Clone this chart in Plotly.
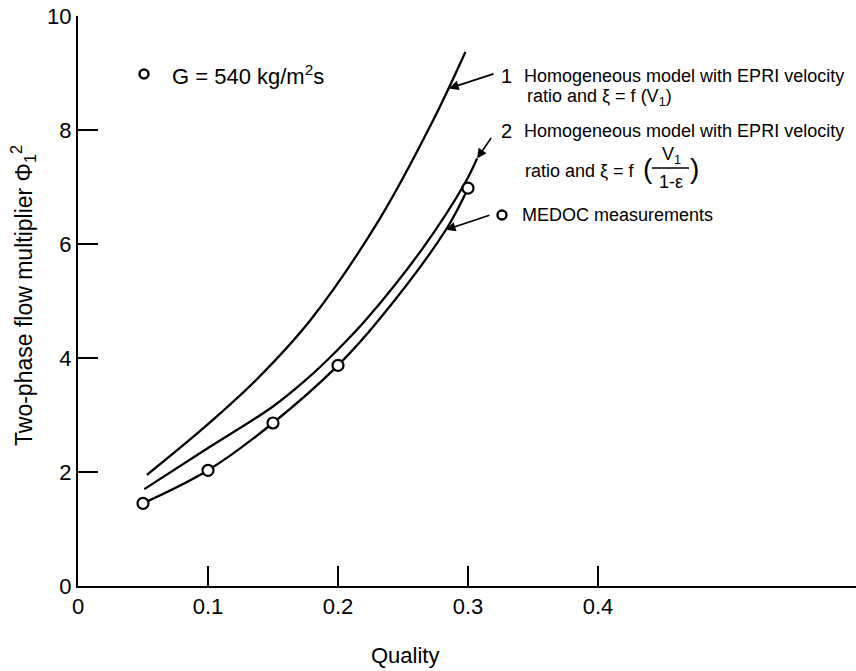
import plotly.graph_objects as go

# ---- data -------------------------------------------------------------
# MEDOC measurements, G = 540 kg/m2s
medoc_x = [0.05, 0.10, 0.15, 0.20, 0.30]
medoc_y = [1.45, 2.03, 2.86, 3.87, 6.98]

# line drawn through the measurements
meas_line_x = [0.05, 0.10, 0.15, 0.20, 0.2315, 0.283, 0.30]
meas_line_y = [1.45, 2.03, 2.86, 3.87, 4.67, 6.25, 6.98]

# curve 1: homogeneous model, EPRI velocity ratio, xi = f(V1)
model1_x = [0.053, 0.10, 0.139, 0.179, 0.2315, 0.2725, 0.298]
model1_y = [1.95, 2.84, 3.66, 4.67, 6.42, 8.14, 9.37]

# curve 2: homogeneous model, EPRI velocity ratio, xi = f(V1/(1-eps))
model2_x = [0.051, 0.10, 0.15, 0.175, 0.20, 0.2215, 0.265, 0.2977, 0.307]
model2_y = [1.70, 2.42, 3.15, 3.61, 4.15, 4.67, 5.92, 7.07, 7.50]

x_ticks = [0, 0.1, 0.2, 0.3, 0.4]
x_tick_text = ["0", "0.1", "0.2", "0.3", "0.4"]
y_ticks = [0, 2, 4, 6, 8, 10]
y_tick_text = ["0", "2", "4", "6", "8", "10"]

# ---- layout geometry ---------------------------------------------------
W, H = 856, 671
ML, MR, MT, MB = 78, 0, 16, 85
X_MAX = (W - ML - MR) / 1300.0   # 0.1 quality per 130 px
Y_MAX = 10.0

def paper_x(p):
    return (p - ML) / (W - ML - MR)

def paper_y(p):
    return (H - MB - p) / (H - MT - MB)

FONT = "Liberation Sans, Arial, sans-serif"

fig = go.Figure()
for xs, ys in [(model1_x, model1_y), (model2_x, model2_y), (meas_line_x, meas_line_y)]:
    fig.add_trace(go.Scatter(x=xs, y=ys, mode="lines",
                             line=dict(color="black", width=2.3, shape="spline", smoothing=1.0),
                             showlegend=False, hoverinfo="skip"))
fig.add_trace(go.Scatter(x=medoc_x, y=medoc_y, mode="markers",
                         marker=dict(symbol="circle", size=11, color="white",
                                     line=dict(color="black", width=2.2)),
                         showlegend=False))

ann = []

def text(s, px, py, size=18, anchor="left"):
    ann.append(dict(text=s, x=paper_x(px), y=paper_y(py), xref="paper", yref="paper",
                    showarrow=False, xanchor=anchor, yanchor="middle",
                    font=dict(family=FONT, size=size, color="black")))

# key labels
text("G = 540 kg/m<sup>2</sup>s", 170, 75, size=22)
text("1", 499, 76, size=20)
text("Homogeneous model with EPRI velocity", 522, 76)
text("ratio and \u03be = f (V<sub>1</sub>)", 525, 97)
text("2", 499, 131, size=20)
text("Homogeneous model with EPRI velocity", 522, 131)
text("ratio and \u03be = f", 523, 171)
text("(", 641, 168, size=28)
text("V<sub>1</sub>", 671, 155, anchor="center")
text("1-\u03b5", 671, 182, anchor="center")
text(")", 688, 168, size=28)
text("MEDOC measurements", 520, 215)

# axis titles
text("Quality", 405, 655, size=22, anchor="center")
ann.append(dict(text="Two-phase flow multiplier \u03a6<sub>1</sub><sup>2</sup>",
                x=paper_x(23), y=paper_y(296), xref="paper", yref="paper", textangle=-90,
                showarrow=False, xanchor="center", yanchor="middle",
                font=dict(family=FONT, size=23, color="black")))

# leader arrows from the labels to the curves
def arrow(xd, yd, dx, dy):
    ann.append(dict(text="", x=xd, y=yd, xref="x", yref="y", ax=dx, ay=dy,
                    showarrow=True, arrowhead=2, arrowsize=1.2, arrowwidth=1.6,
                    arrowcolor="black"))

arrow(0.2854, 8.73, 46, -15)
arrow(model2_x[-1], model2_y[-1], 15, -22)
arrow(meas_line_x[-2], meas_line_y[-2], 45, -15)

shapes = []
# fraction bar
shapes.append(dict(type="line", xref="paper", yref="paper", x0=paper_x(652), x1=paper_x(689),
                   y0=paper_y(168), y1=paper_y(168), line=dict(color="black", width=1.5)))
# key symbols
for cx, cy in [(144, 74), (502, 215)]:
    shapes.append(dict(type="circle", xref="paper", yref="paper",
                       x0=paper_x(cx - 4.5), x1=paper_x(cx + 4.5),
                       y0=paper_y(cy + 4.5), y1=paper_y(cy - 4.5),
                       line=dict(color="black", width=2.4), fillcolor="white"))

axis_common = dict(showgrid=False, zeroline=False, showline=True, linecolor="black",
                   linewidth=2, mirror=False)

fig.update_layout(
    width=W, height=H,
    margin=dict(l=ML, r=MR, t=MT, b=MB),
    plot_bgcolor="white", paper_bgcolor="white",
    xaxis=dict(range=[0, X_MAX], tickvals=x_ticks, ticktext=x_tick_text, ticks="",
               tickfont=dict(family=FONT, size=22, color="black"), **axis_common),
    yaxis=dict(range=[0, Y_MAX], tickvals=y_ticks, ticktext=y_tick_text, ticks="",
               tickfont=dict(family=FONT, size=22, color="black"), **axis_common),
    xaxis2=dict(range=[0, X_MAX], overlaying="x", anchor="y", tickvals=x_ticks[1:],
                ticks="inside", ticklen=20, tickwidth=2, tickcolor="black",
                showticklabels=False, showgrid=False, zeroline=False, showline=False),
    yaxis2=dict(range=[0, Y_MAX], overlaying="y", anchor="x", tickvals=y_ticks[1:-1],
                ticks="inside", ticklen=20, tickwidth=2, tickcolor="black",
                showticklabels=False, showgrid=False, zeroline=False, showline=False),
    annotations=ann, shapes=shapes,
    showlegend=False,
)
# empty trace bound to the tick axes so they are drawn
fig.add_trace(go.Scatter(x=[None], y=[None], xaxis="x2", yaxis="y2",
                         mode="lines", showlegend=False, hoverinfo="skip"))

fig.write_html("out.html")
